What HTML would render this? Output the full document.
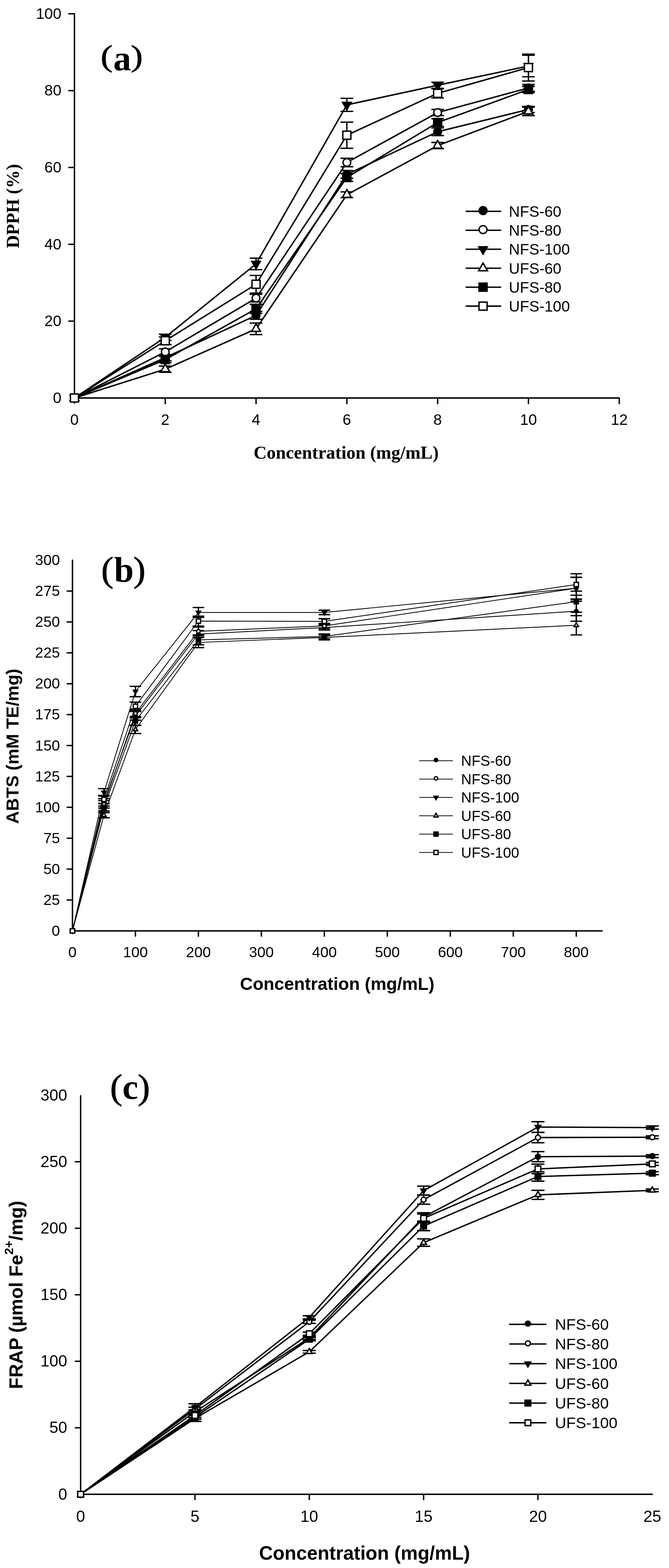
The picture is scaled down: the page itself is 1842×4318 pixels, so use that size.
<!DOCTYPE html>
<html><head><meta charset="utf-8"><title>Antioxidant activity charts</title>
<style>html,body{margin:0;padding:0;background:#fff;}body{width:1842px;height:4318px;overflow:hidden;}svg{display:block;}</style>
</head><body>
<svg width="1842" height="4318" viewBox="0 0 1842 4318">
<rect width="100%" height="100%" fill="#fff"/>
<g font-family="'Liberation Sans', Arial, sans-serif" fill="#000">
<path d="M205 36.5V1096H1706" stroke="#000" stroke-width="3.8" fill="none" stroke-linejoin="miter"/>
<path d="M188 884.4H205" stroke="#000" stroke-width="3.8"/>
<path d="M188 672.8H205" stroke="#000" stroke-width="3.8"/>
<path d="M188 461.2H205" stroke="#000" stroke-width="3.8"/>
<path d="M188 249.6H205" stroke="#000" stroke-width="3.8"/>
<path d="M188 38H205" stroke="#000" stroke-width="3.8"/>
<path d="M455 1096V1113" stroke="#000" stroke-width="3.8"/>
<path d="M705 1096V1113" stroke="#000" stroke-width="3.8"/>
<path d="M955 1096V1113" stroke="#000" stroke-width="3.8"/>
<path d="M1205 1096V1113" stroke="#000" stroke-width="3.8"/>
<path d="M1455 1096V1113" stroke="#000" stroke-width="3.8"/>
<path d="M1705 1096V1113" stroke="#000" stroke-width="3.8"/>
<text x="169" y="1109.84" font-size="42" text-anchor="end">0</text>
<text x="169" y="898.24" font-size="42" text-anchor="end">20</text>
<text x="169" y="686.64" font-size="42" text-anchor="end">40</text>
<text x="169" y="475.04" font-size="42" text-anchor="end">60</text>
<text x="169" y="263.44" font-size="42" text-anchor="end">80</text>
<text x="169" y="51.84" font-size="42" text-anchor="end">100</text>
<text x="205" y="1170" font-size="42" text-anchor="middle">0</text>
<text x="455" y="1170" font-size="42" text-anchor="middle">2</text>
<text x="705" y="1170" font-size="42" text-anchor="middle">4</text>
<text x="955" y="1170" font-size="42" text-anchor="middle">6</text>
<text x="1205" y="1170" font-size="42" text-anchor="middle">8</text>
<text x="1455" y="1170" font-size="42" text-anchor="middle">10</text>
<text x="1705" y="1170" font-size="42" text-anchor="middle">12</text>
<path d="M199.5 1541V2563.5H1659" stroke="#000" stroke-width="3.8" fill="none" stroke-linejoin="miter"/>
<path d="M183.5 2478.43H199.5" stroke="#000" stroke-width="3.8"/>
<path d="M183.5 2393.35H199.5" stroke="#000" stroke-width="3.8"/>
<path d="M183.5 2308.28H199.5" stroke="#000" stroke-width="3.8"/>
<path d="M183.5 2223.2H199.5" stroke="#000" stroke-width="3.8"/>
<path d="M183.5 2138.12H199.5" stroke="#000" stroke-width="3.8"/>
<path d="M183.5 2053.05H199.5" stroke="#000" stroke-width="3.8"/>
<path d="M183.5 1967.97H199.5" stroke="#000" stroke-width="3.8"/>
<path d="M183.5 1882.9H199.5" stroke="#000" stroke-width="3.8"/>
<path d="M183.5 1797.83H199.5" stroke="#000" stroke-width="3.8"/>
<path d="M183.5 1712.75H199.5" stroke="#000" stroke-width="3.8"/>
<path d="M183.5 1627.67H199.5" stroke="#000" stroke-width="3.8"/>
<path d="M372.9 2563.5V2579.5" stroke="#000" stroke-width="3.8"/>
<path d="M546.3 2563.5V2579.5" stroke="#000" stroke-width="3.8"/>
<path d="M719.7 2563.5V2579.5" stroke="#000" stroke-width="3.8"/>
<path d="M893.1 2563.5V2579.5" stroke="#000" stroke-width="3.8"/>
<path d="M1066.5 2563.5V2579.5" stroke="#000" stroke-width="3.8"/>
<path d="M1239.9 2563.5V2579.5" stroke="#000" stroke-width="3.8"/>
<path d="M1413.3 2563.5V2579.5" stroke="#000" stroke-width="3.8"/>
<path d="M1586.7 2563.5V2579.5" stroke="#000" stroke-width="3.8"/>
<text x="165" y="2576.98" font-size="41" text-anchor="end">0</text>
<text x="165" y="2491.9" font-size="41" text-anchor="end">25</text>
<text x="165" y="2406.83" font-size="41" text-anchor="end">50</text>
<text x="165" y="2321.75" font-size="41" text-anchor="end">75</text>
<text x="165" y="2236.68" font-size="41" text-anchor="end">100</text>
<text x="165" y="2151.6" font-size="41" text-anchor="end">125</text>
<text x="165" y="2066.53" font-size="41" text-anchor="end">150</text>
<text x="165" y="1981.45" font-size="41" text-anchor="end">175</text>
<text x="165" y="1896.38" font-size="41" text-anchor="end">200</text>
<text x="165" y="1811.3" font-size="41" text-anchor="end">225</text>
<text x="165" y="1726.23" font-size="41" text-anchor="end">250</text>
<text x="165" y="1641.15" font-size="41" text-anchor="end">275</text>
<text x="165" y="1556.08" font-size="41" text-anchor="end">300</text>
<text x="199.5" y="2635.5" font-size="41" text-anchor="middle">0</text>
<text x="372.9" y="2635.5" font-size="41" text-anchor="middle">100</text>
<text x="546.3" y="2635.5" font-size="41" text-anchor="middle">200</text>
<text x="719.7" y="2635.5" font-size="41" text-anchor="middle">300</text>
<text x="893.1" y="2635.5" font-size="41" text-anchor="middle">400</text>
<text x="1066.5" y="2635.5" font-size="41" text-anchor="middle">500</text>
<text x="1239.9" y="2635.5" font-size="41" text-anchor="middle">600</text>
<text x="1413.3" y="2635.5" font-size="41" text-anchor="middle">700</text>
<text x="1586.7" y="2635.5" font-size="41" text-anchor="middle">800</text>
<path d="M222 3016V4115H1797.5" stroke="#000" stroke-width="3.8" fill="none" stroke-linejoin="miter"/>
<path d="M206 3931.85H222" stroke="#000" stroke-width="3.8"/>
<path d="M206 3748.7H222" stroke="#000" stroke-width="3.8"/>
<path d="M206 3565.55H222" stroke="#000" stroke-width="3.8"/>
<path d="M206 3382.4H222" stroke="#000" stroke-width="3.8"/>
<path d="M206 3199.25H222" stroke="#000" stroke-width="3.8"/>
<path d="M536.8 4115V4131" stroke="#000" stroke-width="3.8"/>
<path d="M851.6 4115V4131" stroke="#000" stroke-width="3.8"/>
<path d="M1166.4 4115V4131" stroke="#000" stroke-width="3.8"/>
<path d="M1481.2 4115V4131" stroke="#000" stroke-width="3.8"/>
<text x="185" y="4129.55" font-size="44" text-anchor="end">0</text>
<text x="185" y="3946.4" font-size="44" text-anchor="end">50</text>
<text x="185" y="3763.25" font-size="44" text-anchor="end">100</text>
<text x="185" y="3580.1" font-size="44" text-anchor="end">150</text>
<text x="185" y="3396.95" font-size="44" text-anchor="end">200</text>
<text x="185" y="3213.8" font-size="44" text-anchor="end">250</text>
<text x="185" y="3030.65" font-size="44" text-anchor="end">300</text>
<text x="222" y="4190.5" font-size="44" text-anchor="middle">0</text>
<text x="536.8" y="4190.5" font-size="44" text-anchor="middle">5</text>
<text x="851.6" y="4190.5" font-size="44" text-anchor="middle">10</text>
<text x="1166.4" y="4190.5" font-size="44" text-anchor="middle">15</text>
<text x="1481.2" y="4190.5" font-size="44" text-anchor="middle">20</text>
<text x="1796" y="4190.5" font-size="44" text-anchor="middle">25</text>
</g>
<polyline points="205,1096 455,984.91 705,868.53 955,480.24 1205,362.81 1455,301.44" fill="none" stroke="#000" stroke-width="4" stroke-linejoin="round"/>
<polyline points="205,1096 455,969.04 705,820.92 955,447.45 1205,309.91 1455,242.19" fill="none" stroke="#000" stroke-width="4" stroke-linejoin="round"/>
<polyline points="205,1096 455,928.84 705,726.76 955,288.75 1205,234.79 1455,181.89" fill="none" stroke="#000" stroke-width="4" stroke-linejoin="round"/>
<polyline points="205,1096 455,1016.65 705,905.56 955,536.32 1205,400.89 1455,306.73" fill="none" stroke="#000" stroke-width="4" stroke-linejoin="round"/>
<polyline points="205,1096 455,990.2 705,850.54 955,488.71 1205,337.41 1455,246.43" fill="none" stroke="#000" stroke-width="4" stroke-linejoin="round"/>
<polyline points="205,1096 455,938.36 705,782.83 955,372.33 1205,257.01 1455,186.12" fill="none" stroke="#000" stroke-width="4" stroke-linejoin="round"/>
<path d="M455 976.45V993.37M437.5 976.45H472.5M437.5 993.37H472.5" stroke="#000" stroke-width="3.7" fill="none"/>
<path d="M705 857.95V879.11M687.5 857.95H722.5M687.5 879.11H722.5" stroke="#000" stroke-width="3.7" fill="none"/>
<path d="M955 469.66V490.82M937.5 469.66H972.5M937.5 490.82H972.5" stroke="#000" stroke-width="3.7" fill="none"/>
<path d="M1205 352.23V373.39M1187.5 352.23H1222.5M1187.5 373.39H1222.5" stroke="#000" stroke-width="3.7" fill="none"/>
<path d="M1455 292.98V309.91M1437.5 292.98H1472.5M1437.5 309.91H1472.5" stroke="#000" stroke-width="3.7" fill="none"/>
<path d="M455 960.58V977.5M437.5 960.58H472.5M437.5 977.5H472.5" stroke="#000" stroke-width="3.7" fill="none"/>
<path d="M705 810.34V831.5M687.5 810.34H722.5M687.5 831.5H722.5" stroke="#000" stroke-width="3.7" fill="none"/>
<path d="M955 435.81V459.08M937.5 435.81H972.5M937.5 459.08H972.5" stroke="#000" stroke-width="3.7" fill="none"/>
<path d="M1205 301.44V318.37M1187.5 301.44H1222.5M1187.5 318.37H1222.5" stroke="#000" stroke-width="3.7" fill="none"/>
<path d="M1455 232.67V251.72M1437.5 232.67H1472.5M1437.5 251.72H1472.5" stroke="#000" stroke-width="3.7" fill="none"/>
<path d="M455 920.37V937.3M437.5 920.37H472.5M437.5 937.3H472.5" stroke="#000" stroke-width="3.7" fill="none"/>
<path d="M705 710.89V742.63M687.5 710.89H722.5M687.5 742.63H722.5" stroke="#000" stroke-width="3.7" fill="none"/>
<path d="M955 270.76V306.73M937.5 270.76H972.5M937.5 306.73H972.5" stroke="#000" stroke-width="3.7" fill="none"/>
<path d="M1205 226.32V243.25M1187.5 226.32H1222.5M1187.5 243.25H1222.5" stroke="#000" stroke-width="3.7" fill="none"/>
<path d="M1455 152.26V211.51M1437.5 152.26H1472.5M1437.5 211.51H1472.5" stroke="#000" stroke-width="3.7" fill="none"/>
<path d="M455 1008.19V1025.11M437.5 1008.19H472.5M437.5 1025.11H472.5" stroke="#000" stroke-width="3.7" fill="none"/>
<path d="M705 889.69V921.43M687.5 889.69H722.5M687.5 921.43H722.5" stroke="#000" stroke-width="3.7" fill="none"/>
<path d="M955 528.38V544.25M937.5 528.38H972.5M937.5 544.25H972.5" stroke="#000" stroke-width="3.7" fill="none"/>
<path d="M1205 392.43V409.36M1187.5 392.43H1222.5M1187.5 409.36H1222.5" stroke="#000" stroke-width="3.7" fill="none"/>
<path d="M1455 295.09V318.37M1437.5 295.09H1472.5M1437.5 318.37H1472.5" stroke="#000" stroke-width="3.7" fill="none"/>
<path d="M455 981.74V998.66M437.5 981.74H472.5M437.5 998.66H472.5" stroke="#000" stroke-width="3.7" fill="none"/>
<path d="M705 837.85V863.24M687.5 837.85H722.5M687.5 863.24H722.5" stroke="#000" stroke-width="3.7" fill="none"/>
<path d="M955 478.13V499.29M937.5 478.13H972.5M937.5 499.29H972.5" stroke="#000" stroke-width="3.7" fill="none"/>
<path d="M1205 326.83V347.99M1187.5 326.83H1222.5M1187.5 347.99H1222.5" stroke="#000" stroke-width="3.7" fill="none"/>
<path d="M1455 237.96V254.89M1437.5 237.96H1472.5M1437.5 254.89H1472.5" stroke="#000" stroke-width="3.7" fill="none"/>
<path d="M455 927.78V948.94M437.5 927.78H472.5M437.5 948.94H472.5" stroke="#000" stroke-width="3.7" fill="none"/>
<path d="M705 758.5V807.17M687.5 758.5H722.5M687.5 807.17H722.5" stroke="#000" stroke-width="3.7" fill="none"/>
<path d="M955 336.36V408.3M937.5 336.36H972.5M937.5 408.3H972.5" stroke="#000" stroke-width="3.7" fill="none"/>
<path d="M1205 244.31V269.7M1187.5 244.31H1222.5M1187.5 269.7H1222.5" stroke="#000" stroke-width="3.7" fill="none"/>
<path d="M1455 149.09V223.15M1437.5 149.09H1472.5M1437.5 223.15H1472.5" stroke="#000" stroke-width="3.7" fill="none"/>
<circle cx="205" cy="1096" r="12.5" fill="#000"/>
<circle cx="455" cy="984.91" r="12.5" fill="#000"/>
<circle cx="705" cy="868.53" r="12.5" fill="#000"/>
<circle cx="955" cy="480.24" r="12.5" fill="#000"/>
<circle cx="1205" cy="362.81" r="12.5" fill="#000"/>
<circle cx="1455" cy="301.44" r="12.5" fill="#000"/>
<circle cx="205" cy="1096" r="10.6" fill="#fff" stroke="#000" stroke-width="3.8"/>
<circle cx="455" cy="969.04" r="10.6" fill="#fff" stroke="#000" stroke-width="3.8"/>
<circle cx="705" cy="820.92" r="10.6" fill="#fff" stroke="#000" stroke-width="3.8"/>
<circle cx="955" cy="447.45" r="10.6" fill="#fff" stroke="#000" stroke-width="3.8"/>
<circle cx="1205" cy="309.91" r="10.6" fill="#fff" stroke="#000" stroke-width="3.8"/>
<circle cx="1455" cy="242.19" r="10.6" fill="#fff" stroke="#000" stroke-width="3.8"/>
<polygon points="190,1087.34 220,1087.34 205,1113.32" fill="#000"/>
<polygon points="440,920.18 470,920.18 455,946.16" fill="#000"/>
<polygon points="690,718.1 720,718.1 705,744.08" fill="#000"/>
<polygon points="940,280.09 970,280.09 955,306.07" fill="#000"/>
<polygon points="1190,226.13 1220,226.13 1205,252.11" fill="#000"/>
<polygon points="1440,173.23 1470,173.23 1455,199.21" fill="#000"/>
<polygon points="205,1081.97 217.15,1103.01 192.85,1103.01" fill="#fff" stroke="#000" stroke-width="3.8" stroke-linejoin="miter"/>
<polygon points="455,1002.62 467.15,1023.66 442.85,1023.66" fill="#fff" stroke="#000" stroke-width="3.8" stroke-linejoin="miter"/>
<polygon points="705,891.53 717.15,912.57 692.85,912.57" fill="#fff" stroke="#000" stroke-width="3.8" stroke-linejoin="miter"/>
<polygon points="955,522.29 967.15,543.33 942.85,543.33" fill="#fff" stroke="#000" stroke-width="3.8" stroke-linejoin="miter"/>
<polygon points="1205,386.86 1217.15,407.91 1192.85,407.91" fill="#fff" stroke="#000" stroke-width="3.8" stroke-linejoin="miter"/>
<polygon points="1455,292.7 1467.15,313.75 1442.85,313.75" fill="#fff" stroke="#000" stroke-width="3.8" stroke-linejoin="miter"/>
<rect x="192" y="1083" width="26" height="26" fill="#000"/>
<rect x="442" y="977.2" width="26" height="26" fill="#000"/>
<rect x="692" y="837.54" width="26" height="26" fill="#000"/>
<rect x="942" y="475.71" width="26" height="26" fill="#000"/>
<rect x="1192" y="324.41" width="26" height="26" fill="#000"/>
<rect x="1442" y="233.43" width="26" height="26" fill="#000"/>
<rect x="193.9" y="1084.9" width="22.2" height="22.2" fill="#fff" stroke="#000" stroke-width="3.8"/>
<rect x="443.9" y="927.26" width="22.2" height="22.2" fill="#fff" stroke="#000" stroke-width="3.8"/>
<rect x="693.9" y="771.73" width="22.2" height="22.2" fill="#fff" stroke="#000" stroke-width="3.8"/>
<rect x="943.9" y="361.23" width="22.2" height="22.2" fill="#fff" stroke="#000" stroke-width="3.8"/>
<rect x="1193.9" y="245.91" width="22.2" height="22.2" fill="#fff" stroke="#000" stroke-width="3.8"/>
<rect x="1443.9" y="175.02" width="22.2" height="22.2" fill="#fff" stroke="#000" stroke-width="3.8"/>
<polyline points="199.5,2563.5 286.2,2209.59 372.9,1971.38 546.3,1746.1 893.1,1728.06 1586.7,1683.14" fill="none" stroke="#000" stroke-width="2.2" stroke-linejoin="round"/>
<polyline points="199.5,2563.5 286.2,2215.03 372.9,1964.57 546.3,1738.61 893.1,1723.64 1586.7,1619.85" fill="none" stroke="#000" stroke-width="2.2" stroke-linejoin="round"/>
<polyline points="199.5,2563.5 286.2,2182.02 372.9,1904.34 546.3,1686.55 893.1,1686.55 1586.7,1619.85" fill="none" stroke="#000" stroke-width="2.2" stroke-linejoin="round"/>
<polyline points="199.5,2563.5 286.2,2244.98 372.9,2008.81 546.3,1769.24 893.1,1755.29 1586.7,1721.94" fill="none" stroke="#000" stroke-width="2.2" stroke-linejoin="round"/>
<polyline points="199.5,2563.5 286.2,2223.2 372.9,1985.33 546.3,1762.09 893.1,1752.57 1586.7,1656.94" fill="none" stroke="#000" stroke-width="2.2" stroke-linejoin="round"/>
<polyline points="199.5,2563.5 286.2,2201.42 372.9,1945.17 546.3,1710.37 893.1,1711.05 1586.7,1609.64" fill="none" stroke="#000" stroke-width="2.2" stroke-linejoin="round"/>
<path d="M286.2 2199.38V2219.8M270.2 2199.38H302.2M270.2 2219.8H302.2" stroke="#000" stroke-width="3.6" fill="none"/>
<path d="M372.9 1959.47V1983.29M356.9 1959.47H388.9M356.9 1983.29H388.9" stroke="#000" stroke-width="3.6" fill="none"/>
<path d="M546.3 1736.57V1755.63M530.3 1736.57H562.3M530.3 1755.63H562.3" stroke="#000" stroke-width="3.6" fill="none"/>
<path d="M893.1 1721.26V1734.87M877.1 1721.26H909.1M877.1 1734.87H909.1" stroke="#000" stroke-width="3.6" fill="none"/>
<path d="M1586.7 1655.58V1710.71M1570.7 1655.58H1602.7M1570.7 1710.71H1602.7" stroke="#000" stroke-width="3.6" fill="none"/>
<path d="M286.2 2204.82V2225.24M270.2 2204.82H302.2M270.2 2225.24H302.2" stroke="#000" stroke-width="3.6" fill="none"/>
<path d="M372.9 1952.66V1976.48M356.9 1952.66H388.9M356.9 1976.48H388.9" stroke="#000" stroke-width="3.6" fill="none"/>
<path d="M546.3 1726.7V1750.52M530.3 1726.7H562.3M530.3 1750.52H562.3" stroke="#000" stroke-width="3.6" fill="none"/>
<path d="M893.1 1716.83V1730.45M877.1 1716.83H909.1M877.1 1730.45H909.1" stroke="#000" stroke-width="3.6" fill="none"/>
<path d="M1586.7 1590.24V1649.45M1570.7 1590.24H1602.7M1570.7 1649.45H1602.7" stroke="#000" stroke-width="3.6" fill="none"/>
<path d="M286.2 2171.81V2192.23M270.2 2171.81H302.2M270.2 2192.23H302.2" stroke="#000" stroke-width="3.6" fill="none"/>
<path d="M372.9 1890.05V1918.63M356.9 1890.05H388.9M356.9 1918.63H388.9" stroke="#000" stroke-width="3.6" fill="none"/>
<path d="M546.3 1672.93V1700.16M530.3 1672.93H562.3M530.3 1700.16H562.3" stroke="#000" stroke-width="3.6" fill="none"/>
<path d="M893.1 1680.42V1692.67M877.1 1680.42H909.1M877.1 1692.67H909.1" stroke="#000" stroke-width="3.6" fill="none"/>
<path d="M1586.7 1589.56V1650.13M1570.7 1589.56H1602.7M1570.7 1650.13H1602.7" stroke="#000" stroke-width="3.6" fill="none"/>
<path d="M286.2 2237.83V2252.13M270.2 2237.83H302.2M270.2 2252.13H302.2" stroke="#000" stroke-width="3.6" fill="none"/>
<path d="M372.9 1997.58V2020.04M356.9 1997.58H388.9M356.9 2020.04H388.9" stroke="#000" stroke-width="3.6" fill="none"/>
<path d="M546.3 1754.95V1783.53M530.3 1754.95H562.3M530.3 1783.53H562.3" stroke="#000" stroke-width="3.6" fill="none"/>
<path d="M893.1 1748.48V1762.09M877.1 1748.48H909.1M877.1 1762.09H909.1" stroke="#000" stroke-width="3.6" fill="none"/>
<path d="M1586.7 1695.39V1748.48M1570.7 1695.39H1602.7M1570.7 1748.48H1602.7" stroke="#000" stroke-width="3.6" fill="none"/>
<path d="M286.2 2212.99V2233.41M270.2 2212.99H302.2M270.2 2233.41H302.2" stroke="#000" stroke-width="3.6" fill="none"/>
<path d="M372.9 1973.42V1997.24M356.9 1973.42H388.9M356.9 1997.24H388.9" stroke="#000" stroke-width="3.6" fill="none"/>
<path d="M546.3 1748.48V1775.71M530.3 1748.48H562.3M530.3 1775.71H562.3" stroke="#000" stroke-width="3.6" fill="none"/>
<path d="M893.1 1745.76V1759.37M877.1 1745.76H909.1M877.1 1759.37H909.1" stroke="#000" stroke-width="3.6" fill="none"/>
<path d="M1586.7 1628.02V1685.87M1570.7 1628.02H1602.7M1570.7 1685.87H1602.7" stroke="#000" stroke-width="3.6" fill="none"/>
<path d="M286.2 2190.53V2212.31M270.2 2190.53H302.2M270.2 2212.31H302.2" stroke="#000" stroke-width="3.6" fill="none"/>
<path d="M372.9 1933.6V1956.75M356.9 1933.6H388.9M356.9 1956.75H388.9" stroke="#000" stroke-width="3.6" fill="none"/>
<path d="M546.3 1696.76V1723.98M530.3 1696.76H562.3M530.3 1723.98H562.3" stroke="#000" stroke-width="3.6" fill="none"/>
<path d="M893.1 1703.9V1718.19M877.1 1703.9H909.1M877.1 1718.19H909.1" stroke="#000" stroke-width="3.6" fill="none"/>
<path d="M1586.7 1580.03V1639.25M1570.7 1580.03H1602.7M1570.7 1639.25H1602.7" stroke="#000" stroke-width="3.6" fill="none"/>
<circle cx="199.5" cy="2563.5" r="6.75" fill="#000"/>
<circle cx="286.2" cy="2209.59" r="6.75" fill="#000"/>
<circle cx="372.9" cy="1971.38" r="6.75" fill="#000"/>
<circle cx="546.3" cy="1746.1" r="6.75" fill="#000"/>
<circle cx="893.1" cy="1728.06" r="6.75" fill="#000"/>
<circle cx="1586.7" cy="1683.14" r="6.75" fill="#000"/>
<circle cx="199.5" cy="2563.5" r="4.95" fill="#fff" stroke="#000" stroke-width="3.6"/>
<circle cx="286.2" cy="2215.03" r="4.95" fill="#fff" stroke="#000" stroke-width="3.6"/>
<circle cx="372.9" cy="1964.57" r="4.95" fill="#fff" stroke="#000" stroke-width="3.6"/>
<circle cx="546.3" cy="1738.61" r="4.95" fill="#fff" stroke="#000" stroke-width="3.6"/>
<circle cx="893.1" cy="1723.64" r="4.95" fill="#fff" stroke="#000" stroke-width="3.6"/>
<circle cx="1586.7" cy="1619.85" r="4.95" fill="#fff" stroke="#000" stroke-width="3.6"/>
<polygon points="190.75,2558.45 208.25,2558.45 199.5,2573.6" fill="#000"/>
<polygon points="277.45,2176.97 294.95,2176.97 286.2,2192.13" fill="#000"/>
<polygon points="364.15,1899.29 381.65,1899.29 372.9,1914.44" fill="#000"/>
<polygon points="537.55,1681.5 555.05,1681.5 546.3,1696.65" fill="#000"/>
<polygon points="884.35,1681.5 901.85,1681.5 893.1,1696.65" fill="#000"/>
<polygon points="1577.95,1614.8 1595.45,1614.8 1586.7,1629.95" fill="#000"/>
<polygon points="199.5,2556.51 205.55,2566.99 193.45,2566.99" fill="#fff" stroke="#000" stroke-width="3.6" stroke-linejoin="miter"/>
<polygon points="286.2,2237.99 292.25,2248.47 280.15,2248.47" fill="#fff" stroke="#000" stroke-width="3.6" stroke-linejoin="miter"/>
<polygon points="372.9,2001.83 378.95,2012.3 366.85,2012.3" fill="#fff" stroke="#000" stroke-width="3.6" stroke-linejoin="miter"/>
<polygon points="546.3,1762.25 552.35,1772.73 540.25,1772.73" fill="#fff" stroke="#000" stroke-width="3.6" stroke-linejoin="miter"/>
<polygon points="893.1,1748.3 899.15,1758.78 887.05,1758.78" fill="#fff" stroke="#000" stroke-width="3.6" stroke-linejoin="miter"/>
<polygon points="1586.7,1714.95 1592.75,1725.43 1580.65,1725.43" fill="#fff" stroke="#000" stroke-width="3.6" stroke-linejoin="miter"/>
<rect x="191.75" y="2555.75" width="15.5" height="15.5" fill="#000"/>
<rect x="278.45" y="2215.45" width="15.5" height="15.5" fill="#000"/>
<rect x="365.15" y="1977.58" width="15.5" height="15.5" fill="#000"/>
<rect x="538.55" y="1754.34" width="15.5" height="15.5" fill="#000"/>
<rect x="885.35" y="1744.82" width="15.5" height="15.5" fill="#000"/>
<rect x="1578.95" y="1649.19" width="15.5" height="15.5" fill="#000"/>
<rect x="193.55" y="2557.55" width="11.9" height="11.9" fill="#fff" stroke="#000" stroke-width="3.6"/>
<rect x="280.25" y="2195.47" width="11.9" height="11.9" fill="#fff" stroke="#000" stroke-width="3.6"/>
<rect x="366.95" y="1939.22" width="11.9" height="11.9" fill="#fff" stroke="#000" stroke-width="3.6"/>
<rect x="540.35" y="1704.42" width="11.9" height="11.9" fill="#fff" stroke="#000" stroke-width="3.6"/>
<rect x="887.15" y="1705.1" width="11.9" height="11.9" fill="#fff" stroke="#000" stroke-width="3.6"/>
<rect x="1580.75" y="1603.69" width="11.9" height="11.9" fill="#fff" stroke="#000" stroke-width="3.6"/>
<polyline points="222,4115 536.8,3887.89 851.6,3684.6 1166.4,3351.26 1481.2,3185.33 1796,3183.87" fill="none" stroke="#000" stroke-width="3.8" stroke-linejoin="round"/>
<polyline points="222,4115 536.8,3880.57 851.6,3639.91 1166.4,3303.65 1481.2,3132.58 1796,3131.85" fill="none" stroke="#000" stroke-width="3.8" stroke-linejoin="round"/>
<polyline points="222,4115 536.8,3875.07 851.6,3627.82 1166.4,3278.74 1481.2,3103.65 1796,3105.11" fill="none" stroke="#000" stroke-width="3.8" stroke-linejoin="round"/>
<polyline points="222,4115 536.8,3906.21 851.6,3722.69 1166.4,3421.96 1481.2,3290.46 1796,3278" fill="none" stroke="#000" stroke-width="3.8" stroke-linejoin="round"/>
<polyline points="222,4115 536.8,3902.55 851.6,3687.89 1166.4,3376.17 1481.2,3239.91 1796,3230.75" fill="none" stroke="#000" stroke-width="3.8" stroke-linejoin="round"/>
<polyline points="222,4115 536.8,3897.78 851.6,3672.88 1166.4,3354.93 1481.2,3219.03 1796,3205.11" fill="none" stroke="#000" stroke-width="3.8" stroke-linejoin="round"/>
<path d="M536.8 3882.4V3893.39M518.8 3882.4H554.8M518.8 3893.39H554.8" stroke="#000" stroke-width="3.8" fill="none"/>
<path d="M851.6 3680.2V3688.99M833.6 3680.2H869.6M833.6 3688.99H869.6" stroke="#000" stroke-width="3.8" fill="none"/>
<path d="M1166.4 3339.54V3362.99M1148.4 3339.54H1184.4M1148.4 3362.99H1184.4" stroke="#000" stroke-width="3.8" fill="none"/>
<path d="M1481.2 3171.41V3199.25M1463.2 3171.41H1499.2M1463.2 3199.25H1499.2" stroke="#000" stroke-width="3.8" fill="none"/>
<path d="M1796 3179.84V3187.89M1778 3179.84H1814M1778 3187.89H1814" stroke="#000" stroke-width="3.8" fill="none"/>
<path d="M536.8 3875.07V3886.06M518.8 3875.07H554.8M518.8 3886.06H554.8" stroke="#000" stroke-width="3.8" fill="none"/>
<path d="M851.6 3635.51V3644.3M833.6 3635.51H869.6M833.6 3644.3H869.6" stroke="#000" stroke-width="3.8" fill="none"/>
<path d="M1166.4 3291.19V3316.1M1148.4 3291.19H1184.4M1148.4 3316.1H1184.4" stroke="#000" stroke-width="3.8" fill="none"/>
<path d="M1481.2 3118.3V3146.87M1463.2 3118.3H1499.2M1463.2 3146.87H1499.2" stroke="#000" stroke-width="3.8" fill="none"/>
<path d="M1796 3127.82V3135.88M1778 3127.82H1814M1778 3135.88H1814" stroke="#000" stroke-width="3.8" fill="none"/>
<path d="M536.8 3865.55V3884.6M518.8 3865.55H554.8M518.8 3884.6H554.8" stroke="#000" stroke-width="3.8" fill="none"/>
<path d="M851.6 3623.43V3632.22M833.6 3623.43H869.6M833.6 3632.22H869.6" stroke="#000" stroke-width="3.8" fill="none"/>
<path d="M1166.4 3266.28V3291.19M1148.4 3266.28H1184.4M1148.4 3291.19H1184.4" stroke="#000" stroke-width="3.8" fill="none"/>
<path d="M1481.2 3088.99V3118.3M1463.2 3088.99H1499.2M1463.2 3118.3H1499.2" stroke="#000" stroke-width="3.8" fill="none"/>
<path d="M1796 3100.72V3109.51M1778 3100.72H1814M1778 3109.51H1814" stroke="#000" stroke-width="3.8" fill="none"/>
<path d="M536.8 3898.15V3914.27M518.8 3898.15H554.8M518.8 3914.27H554.8" stroke="#000" stroke-width="3.8" fill="none"/>
<path d="M851.6 3719.03V3726.36M833.6 3719.03H869.6M833.6 3726.36H869.6" stroke="#000" stroke-width="3.8" fill="none"/>
<path d="M1166.4 3411.7V3432.22M1148.4 3411.7H1184.4M1148.4 3432.22H1184.4" stroke="#000" stroke-width="3.8" fill="none"/>
<path d="M1481.2 3278V3302.91M1463.2 3278H1499.2M1463.2 3302.91H1499.2" stroke="#000" stroke-width="3.8" fill="none"/>
<path d="M1796 3274.34V3281.67M1778 3274.34H1814M1778 3281.67H1814" stroke="#000" stroke-width="3.8" fill="none"/>
<path d="M536.8 3897.05V3908.04M518.8 3897.05H554.8M518.8 3908.04H554.8" stroke="#000" stroke-width="3.8" fill="none"/>
<path d="M851.6 3683.5V3692.29M833.6 3683.5H869.6M833.6 3692.29H869.6" stroke="#000" stroke-width="3.8" fill="none"/>
<path d="M1166.4 3363.35V3388.99M1148.4 3363.35H1184.4M1148.4 3388.99H1184.4" stroke="#000" stroke-width="3.8" fill="none"/>
<path d="M1481.2 3227.09V3252.73M1463.2 3227.09H1499.2M1463.2 3252.73H1499.2" stroke="#000" stroke-width="3.8" fill="none"/>
<path d="M1796 3226.72V3234.78M1778 3226.72H1814M1778 3234.78H1814" stroke="#000" stroke-width="3.8" fill="none"/>
<path d="M536.8 3892.29V3903.28M518.8 3892.29H554.8M518.8 3903.28H554.8" stroke="#000" stroke-width="3.8" fill="none"/>
<path d="M851.6 3668.48V3677.27M833.6 3668.48H869.6M833.6 3677.27H869.6" stroke="#000" stroke-width="3.8" fill="none"/>
<path d="M1166.4 3343.21V3366.65M1148.4 3343.21H1184.4M1148.4 3366.65H1184.4" stroke="#000" stroke-width="3.8" fill="none"/>
<path d="M1481.2 3205.84V3232.22M1463.2 3205.84H1499.2M1463.2 3232.22H1499.2" stroke="#000" stroke-width="3.8" fill="none"/>
<path d="M1796 3201.08V3209.14M1778 3201.08H1814M1778 3209.14H1814" stroke="#000" stroke-width="3.8" fill="none"/>
<circle cx="222" cy="4115" r="8.75" fill="#000"/>
<circle cx="536.8" cy="3887.89" r="8.75" fill="#000"/>
<circle cx="851.6" cy="3684.6" r="8.75" fill="#000"/>
<circle cx="1166.4" cy="3351.26" r="8.75" fill="#000"/>
<circle cx="1481.2" cy="3185.33" r="8.75" fill="#000"/>
<circle cx="1796" cy="3183.87" r="8.75" fill="#000"/>
<circle cx="222" cy="4115" r="6.9" fill="#fff" stroke="#000" stroke-width="3.7"/>
<circle cx="536.8" cy="3880.57" r="6.9" fill="#fff" stroke="#000" stroke-width="3.7"/>
<circle cx="851.6" cy="3639.91" r="6.9" fill="#fff" stroke="#000" stroke-width="3.7"/>
<circle cx="1166.4" cy="3303.65" r="6.9" fill="#fff" stroke="#000" stroke-width="3.7"/>
<circle cx="1481.2" cy="3132.58" r="6.9" fill="#fff" stroke="#000" stroke-width="3.7"/>
<circle cx="1796" cy="3131.85" r="6.9" fill="#fff" stroke="#000" stroke-width="3.7"/>
<polygon points="211.25,4108.79 232.75,4108.79 222,4127.41" fill="#000"/>
<polygon points="526.05,3868.87 547.55,3868.87 536.8,3887.49" fill="#000"/>
<polygon points="840.85,3621.61 862.35,3621.61 851.6,3640.23" fill="#000"/>
<polygon points="1155.65,3272.53 1177.15,3272.53 1166.4,3291.15" fill="#000"/>
<polygon points="1470.45,3097.44 1491.95,3097.44 1481.2,3116.06" fill="#000"/>
<polygon points="1785.25,3098.9 1806.75,3098.9 1796,3117.52" fill="#000"/>
<polygon points="222,4105.79 229.97,4119.6 214.03,4119.6" fill="#fff" stroke="#000" stroke-width="3.7" stroke-linejoin="miter"/>
<polygon points="536.8,3897 544.77,3910.81 528.82,3910.81" fill="#fff" stroke="#000" stroke-width="3.7" stroke-linejoin="miter"/>
<polygon points="851.6,3713.48 859.58,3727.3 843.62,3727.3" fill="#fff" stroke="#000" stroke-width="3.7" stroke-linejoin="miter"/>
<polygon points="1166.4,3412.75 1174.38,3426.56 1158.43,3426.56" fill="#fff" stroke="#000" stroke-width="3.7" stroke-linejoin="miter"/>
<polygon points="1481.2,3281.25 1489.17,3295.06 1473.23,3295.06" fill="#fff" stroke="#000" stroke-width="3.7" stroke-linejoin="miter"/>
<polygon points="1796,3268.8 1803.97,3282.61 1788.03,3282.61" fill="#fff" stroke="#000" stroke-width="3.7" stroke-linejoin="miter"/>
<rect x="212.25" y="4105.25" width="19.5" height="19.5" fill="#000"/>
<rect x="527.05" y="3892.8" width="19.5" height="19.5" fill="#000"/>
<rect x="841.85" y="3678.14" width="19.5" height="19.5" fill="#000"/>
<rect x="1156.65" y="3366.42" width="19.5" height="19.5" fill="#000"/>
<rect x="1471.45" y="3230.16" width="19.5" height="19.5" fill="#000"/>
<rect x="1786.25" y="3221" width="19.5" height="19.5" fill="#000"/>
<rect x="214.1" y="4107.1" width="15.8" height="15.8" fill="#fff" stroke="#000" stroke-width="3.7"/>
<rect x="528.9" y="3889.88" width="15.8" height="15.8" fill="#fff" stroke="#000" stroke-width="3.7"/>
<rect x="843.7" y="3664.98" width="15.8" height="15.8" fill="#fff" stroke="#000" stroke-width="3.7"/>
<rect x="1158.5" y="3347.03" width="15.8" height="15.8" fill="#fff" stroke="#000" stroke-width="3.7"/>
<rect x="1473.3" y="3211.13" width="15.8" height="15.8" fill="#fff" stroke="#000" stroke-width="3.7"/>
<rect x="1788.1" y="3197.21" width="15.8" height="15.8" fill="#fff" stroke="#000" stroke-width="3.7"/>
<g font-family="'Liberation Sans', Arial, sans-serif" fill="#000">
<path d="M1282 582H1380" stroke="#000" stroke-width="3.8"/>
<circle cx="1330" cy="580" r="12.75" fill="#000"/>
<text x="1401" y="597" font-size="42">NFS-60</text>
<path d="M1282 634.2H1380" stroke="#000" stroke-width="3.8"/>
<circle cx="1330" cy="632.2" r="10.85" fill="#fff" stroke="#000" stroke-width="3.8"/>
<text x="1401" y="649.2" font-size="42">NFS-80</text>
<path d="M1282 686.4H1380" stroke="#000" stroke-width="3.8"/>
<polygon points="1315,677.74 1345,677.74 1330,703.72" fill="#000"/>
<text x="1401" y="701.4" font-size="42">NFS-100</text>
<path d="M1282 738.6H1380" stroke="#000" stroke-width="3.8"/>
<polygon points="1330,724.57 1342.15,745.61 1317.85,745.61" fill="#fff" stroke="#000" stroke-width="3.8" stroke-linejoin="miter"/>
<text x="1401" y="753.6" font-size="42">UFS-60</text>
<path d="M1282 790.8H1380" stroke="#000" stroke-width="3.8"/>
<rect x="1317" y="777.8" width="26" height="26" fill="#000"/>
<text x="1401" y="805.8" font-size="42">UFS-80</text>
<path d="M1282 843H1380" stroke="#000" stroke-width="3.8"/>
<rect x="1318.9" y="831.9" width="22.2" height="22.2" fill="#fff" stroke="#000" stroke-width="3.8"/>
<text x="1401" y="858" font-size="42">UFS-100</text>
<path d="M1154 2095H1247" stroke="#000" stroke-width="2"/>
<circle cx="1200.5" cy="2093" r="6.5" fill="#000"/>
<text x="1269.5" y="2109" font-size="40">NFS-60</text>
<path d="M1154 2145.5H1247" stroke="#000" stroke-width="2"/>
<circle cx="1200.5" cy="2143.5" r="4.7" fill="#fff" stroke="#000" stroke-width="3.6"/>
<text x="1269.5" y="2159.5" font-size="40">NFS-80</text>
<path d="M1154 2196H1247" stroke="#000" stroke-width="2"/>
<polygon points="1192,2191.09 1209,2191.09 1200.5,2205.81" fill="#000"/>
<text x="1269.5" y="2210" font-size="40">NFS-100</text>
<path d="M1154 2246.5H1247" stroke="#000" stroke-width="2"/>
<polygon points="1200.5,2239.8 1206.3,2249.85 1194.7,2249.85" fill="#fff" stroke="#000" stroke-width="3.6" stroke-linejoin="miter"/>
<text x="1269.5" y="2260.5" font-size="40">UFS-60</text>
<path d="M1154 2297H1247" stroke="#000" stroke-width="2"/>
<rect x="1193" y="2289.5" width="15" height="15" fill="#000"/>
<text x="1269.5" y="2311" font-size="40">UFS-80</text>
<path d="M1154 2347.5H1247" stroke="#000" stroke-width="2"/>
<rect x="1194.8" y="2341.8" width="11.4" height="11.4" fill="#fff" stroke="#000" stroke-width="3.6"/>
<text x="1269.5" y="2361.5" font-size="40">UFS-100</text>
<path d="M1402 3647H1504.5" stroke="#000" stroke-width="3.8"/>
<circle cx="1453.5" cy="3645" r="8.75" fill="#000"/>
<text x="1528" y="3662" font-size="43">NFS-60</text>
<path d="M1402 3701.2H1504.5" stroke="#000" stroke-width="3.8"/>
<circle cx="1453.5" cy="3699.2" r="6.85" fill="#fff" stroke="#000" stroke-width="3.8"/>
<text x="1528" y="3716.2" font-size="43">NFS-80</text>
<path d="M1402 3755.4H1504.5" stroke="#000" stroke-width="3.8"/>
<polygon points="1442.5,3749.05 1464.5,3749.05 1453.5,3768.1" fill="#000"/>
<text x="1528" y="3770.4" font-size="43">NFS-100</text>
<path d="M1402 3809.6H1504.5" stroke="#000" stroke-width="3.8"/>
<polygon points="1453.5,3800.19 1461.65,3814.31 1445.35,3814.31" fill="#fff" stroke="#000" stroke-width="3.8" stroke-linejoin="miter"/>
<text x="1528" y="3824.6" font-size="43">UFS-60</text>
<path d="M1402 3863.8H1504.5" stroke="#000" stroke-width="3.8"/>
<rect x="1443.75" y="3854.05" width="19.5" height="19.5" fill="#000"/>
<text x="1528" y="3878.8" font-size="43">UFS-80</text>
<path d="M1402 3918H1504.5" stroke="#000" stroke-width="3.8"/>
<rect x="1445.65" y="3910.15" width="15.7" height="15.7" fill="#fff" stroke="#000" stroke-width="3.8"/>
<text x="1528" y="3933" font-size="43">UFS-100</text>
</g>
<g font-family="'Liberation Serif', 'Times New Roman', serif" font-weight="bold" fill="#000">
<text transform="translate(277,182.35) scale(1.2,1)" font-size="83.4" font-weight="normal" stroke="#000" stroke-width="1">(</text>
<text x="312.1" y="193" font-size="97.9">a</text>
<text transform="translate(360,182.35) scale(1.2,1)" font-size="83.4" font-weight="normal" stroke="#000" stroke-width="1">)</text>
<text transform="translate(278.5,1601.3) scale(1.05,1)" font-size="97.6" font-weight="normal" stroke="#000" stroke-width="1">(</text>
<text x="314" y="1602.2" font-size="97.4">b</text>
<text transform="translate(366.8,1601.3) scale(1.05,1)" font-size="97.6" font-weight="normal" stroke="#000" stroke-width="1">)</text>
<text transform="translate(303.1,3025.6) scale(1.06,1)" font-size="96.5" font-weight="normal" stroke="#000" stroke-width="1">(</text>
<text x="337.1" y="3025.9" font-size="97.9">c</text>
<text transform="translate(378.9,3025.6) scale(1.06,1)" font-size="96.5" font-weight="normal" stroke="#000" stroke-width="1">)</text>
<text transform="translate(52,567.5) rotate(-90)" font-size="50" text-anchor="middle">DPPH (%)</text>
<text x="953" y="1263" font-size="50" text-anchor="middle">Concentration (mg/mL)</text>
</g>
<g font-family="'Liberation Sans', Arial, sans-serif" font-weight="bold" fill="#000">
<text transform="translate(50.5,2055) rotate(-90)" font-size="49" text-anchor="middle">ABTS (mM TE/mg)</text>
<text x="928.5" y="2725.5" font-size="48.7" text-anchor="middle">Concentration (mg/mL)</text>
<text transform="translate(62,3566) rotate(-90)" font-size="52" text-anchor="middle">FRAP (&#181;mol Fe<tspan font-size="34" dy="-26">2+</tspan><tspan dy="26">/mg)</tspan></text>
<text x="1003.6" y="4294.5" font-size="52.8" text-anchor="middle">Concentration (mg/mL)</text>
</g>
</svg>
</body></html>
